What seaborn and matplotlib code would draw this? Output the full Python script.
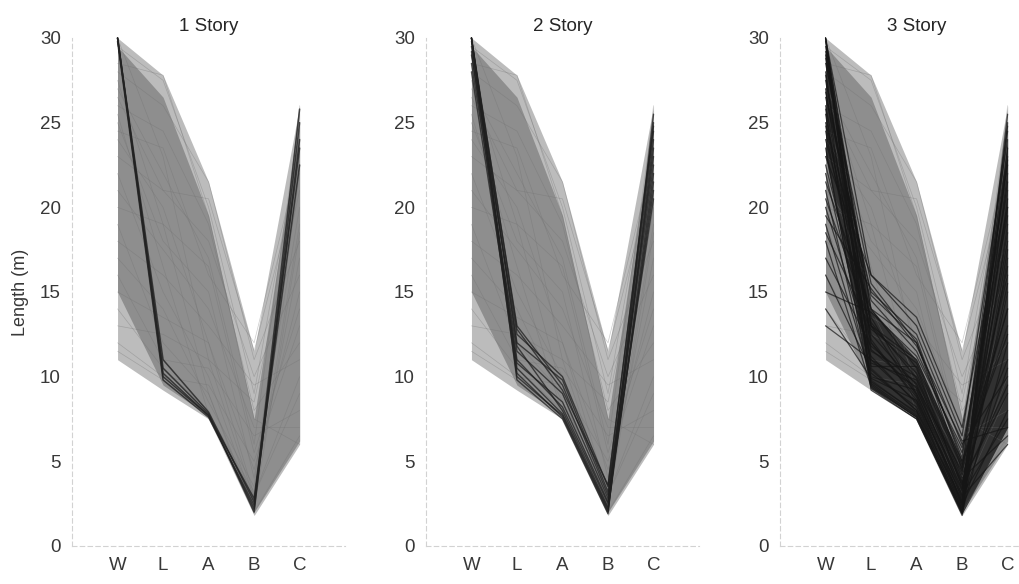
import numpy as np
import pandas as pd
import matplotlib
matplotlib.use("Agg")
import matplotlib.pyplot as plt
import seaborn as sns

# ---------------------------------------------------------------- data
AXIS_LABELS = ["W", "L", "A", "B", "C"]
STORIES = ["1 Story", "2 Story", "3 Story"]

# envelope of the whole design cloud (outer, sparse) and its dense core
SPARSE_UPPER = [30.0, 27.8, 21.5, 11.5, 26.0]
SPARSE_LOWER = [11.0, 9.2, 7.5, 1.8, 6.0]
DENSE_UPPER = [29.5, 26.5, 19.5, 7.5, 25.0]
DENSE_LOWER = [15.0, 9.5, 7.7, 2.0, 6.2]

# sample designs drawn over the cloud
ALL_W = [29.5, 28.0, 27.0, 26.0, 25.0, 24.0, 23.0, 22.0, 21.0, 20.0, 19.0, 18.0, 17.0,
         16.0, 15.0, 14.0, 13.0, 12.0, 11.5, 30.0, 28.5, 27.5, 26.5, 25.5, 24.5]
ALL_L = [27.5, 26.0, 22.0, 24.5, 18.0, 20.0, 21.0, 15.0, 17.5, 19.0, 12.0, 16.0, 14.0,
         11.0, 13.5, 10.5, 12.5, 10.0, 9.8, 23.0, 27.8, 19.0, 21.0, 16.5, 23.5]
ALL_A = [20.0, 21.5, 17.0, 19.0, 15.0, 12.0, 18.0, 10.0, 14.0, 16.5, 9.0, 13.0, 8.5,
         10.5, 12.0, 8.0, 11.0, 9.5, 7.8, 11.0, 19.5, 9.0, 20.5, 7.8, 16.0]
ALL_B = [9.0, 11.0, 6.0, 8.0, 4.0, 3.0, 10.0, 2.5, 7.0, 5.5, 2.2, 9.5, 3.5,
         6.5, 4.5, 2.0, 8.5, 5.0, 3.0, 2.8, 7.5, 1.9, 11.5, 3.2, 12.0]
ALL_C = [24.0, 18.0, 25.5, 12.0, 20.0, 9.0, 16.0, 22.0, 7.0, 14.0, 18.5, 11.0, 24.5,
         8.0, 15.0, 6.5, 21.0, 13.0, 10.0, 19.0, 6.0, 26.0, 22.0, 17.0, 23.0]

# designs meeting the requirement for each number of stories
S1_W = [30.0, 30.0, 30.0, 29.8, 30.0]
S1_L = [10.0, 10.5, 11.0, 9.8, 10.2]
S1_A = [7.7, 7.8, 7.9, 7.6, 7.7]
S1_B = [2.2, 2.0, 2.6, 2.4, 2.8]
S1_C = [24.0, 25.0, 22.5, 25.8, 23.5]

S2_W = [30.0, 30.0, 29.5, 30.0, 29.0, 28.5, 30.0, 29.8, 28.0, 30.0, 29.2, 30.0]
S2_L = [10.5, 10.2, 11.0, 12.0, 12.5, 11.5, 9.8, 13.0, 10.8, 11.8, 10.0, 12.8]
S2_A = [7.8, 7.6, 8.2, 9.8, 10.0, 9.0, 7.5, 9.5, 8.5, 8.0, 7.7, 9.2]
S2_B = [2.2, 2.0, 2.5, 3.2, 3.5, 2.8, 1.9, 3.0, 2.6, 2.3, 2.1, 3.6]
S2_C = [22.0, 24.0, 21.0, 23.0, 25.0, 20.5, 25.5, 22.5, 24.5, 23.5, 21.5, 24.8]

S3_W = [30.0, 30.0, 29.5, 29.0, 28.5, 28.0, 27.5, 27.0, 26.5, 26.0, 25.5, 25.0, 24.5, 24.0,
        23.5, 23.0, 22.5, 22.0, 21.5, 21.0, 20.5, 20.0, 19.5, 19.0, 18.5, 18.0, 17.0, 16.0,
        15.0, 14.0, 13.0, 30.0, 29.8, 28.8, 27.8, 26.8, 25.8, 24.8, 29.2, 30.0]
S3_L = [9.5, 10.5, 12.0, 14.0, 15.5, 11.0, 13.0, 9.8, 15.0, 12.5, 10.2, 14.5, 11.5, 13.5,
        9.3, 16.0, 12.0, 10.8, 14.0, 9.6, 13.0, 11.2, 15.2, 10.0, 12.8, 9.4, 11.8, 10.4,
        13.8, 9.9, 11.0, 16.0, 9.2, 12.2, 10.6, 14.8, 9.7, 13.2, 11.6, 13.0]
S3_A = [7.6, 8.0, 9.0, 10.5, 12.0, 8.5, 11.0, 7.8, 12.5, 9.5, 8.2, 11.5, 10.0, 9.0,
        7.5, 13.0, 8.8, 9.8, 12.0, 7.7, 10.2, 8.4, 11.8, 9.2, 10.8, 7.6, 9.6, 8.0,
        11.2, 8.6, 9.4, 13.5, 7.5, 8.6, 10.6, 12.2, 7.9, 9.9, 9.3, 8.9]
S3_B = [1.9, 2.2, 2.8, 3.5, 4.5, 2.5, 5.0, 2.0, 6.0, 3.0, 2.4, 5.5, 4.0, 3.2,
        1.8, 6.5, 2.6, 3.8, 5.2, 2.1, 4.2, 2.3, 6.2, 3.4, 4.8, 1.9, 3.6, 2.7,
        5.8, 3.0, 4.4, 7.0, 2.0, 2.9, 4.6, 5.0, 2.2, 3.7, 3.3, 2.5]
S3_C = [24.5, 22.0, 20.0, 18.0, 16.0, 25.0, 14.0, 12.0, 10.0, 23.0, 8.0, 19.5, 6.5, 21.5,
        17.0, 24.0, 15.0, 9.0, 22.5, 20.5, 11.0, 25.5, 7.0, 18.5, 13.0, 23.5, 16.5, 10.5,
        20.0, 7.5, 14.0, 21.0, 19.0, 6.0, 24.8, 12.5, 17.5, 9.5, 22.8, 15.5]

# dense band of the 3-story designs
S3_CORE_UPPER = [30.0, 14.0, 11.0, 5.0, 24.0]
S3_CORE_LOWER = [23.0, 9.3, 7.6, 1.9, 7.0]

# ---------------------------------------------------------------- helpers
POS = np.arange(1, len(AXIS_LABELS) + 1)


def long_form(w, l, a, b, c):
    rows = []
    for i, vals in enumerate(zip(w, l, a, b, c)):
        for p, v in zip(POS, vals):
            rows.append({"design": i, "pos": p, "value": v})
    return pd.DataFrame(rows)


cloud = long_form(ALL_W, ALL_L, ALL_A, ALL_B, ALL_C)
selected = [
    long_form(S1_W, S1_L, S1_A, S1_B, S1_C),
    long_form(S2_W, S2_L, S2_A, S2_B, S2_C),
    long_form(S3_W, S3_L, S3_A, S3_B, S3_C),
]
sel_style = [
    dict(color="#222222", lw=1.1, alpha=0.8),
    dict(color="#1f1f1f", lw=1.0, alpha=0.75),
    dict(color="#151515", lw=0.9, alpha=0.7),
]

# ---------------------------------------------------------------- figure
sns.set_theme(style="white")
plt.rcParams["font.family"] = ["Liberation Sans", "DejaVu Sans"]

fig = plt.figure(figsize=(10.19, 5.84), dpi=100)
lefts = [0.0707, 0.418, 0.7655]
bottom, height, width = 0.0651, 0.8699, 0.268

for k, (story, left) in enumerate(zip(STORIES, lefts)):
    ax = fig.add_axes([left, bottom, width, height])
    ax.fill_between(POS, SPARSE_LOWER, SPARSE_UPPER, color="#bcbcbc", lw=0, clip_on=False)
    ax.fill_between(POS, DENSE_LOWER, DENSE_UPPER, color="#8e8e8e", lw=0, clip_on=False)
    sns.lineplot(data=cloud, x="pos", y="value", units="design", estimator=None,
                 sort=False, color="#6e6e6e", lw=0.5, alpha=0.35, ax=ax,
                 legend=False, clip_on=False)
    if k == 2:
        ax.fill_between(POS, S3_CORE_LOWER, S3_CORE_UPPER, color="#242424",
                        alpha=0.88, lw=0, clip_on=False)
    sns.lineplot(data=selected[k], x="pos", y="value", units="design", estimator=None,
                 sort=False, ax=ax, legend=False, clip_on=False, **sel_style[k])

    ax.set_xlim(0, 6)
    ax.set_ylim(0, 30)
    ax.set_xticks(POS)
    ax.set_xticklabels(AXIS_LABELS)
    ax.set_yticks(np.arange(0, 31, 5))
    ax.set_xlabel("")
    ax.set_ylabel("")
    for side in ("top", "right"):
        ax.spines[side].set_visible(False)
    for side in ("left", "bottom"):
        ax.spines[side].set_color("#d2d2d2")
        ax.spines[side].set_linewidth(0.8)
        ax.spines[side].set_linestyle((0, (4, 3)))
    ax.tick_params(axis="both", direction="in", length=3, width=0.6,
                   color="#bdbdbd", labelsize=13.5, labelcolor="#383838", pad=8)
    ax.set_title(story, fontsize=13.5, color="#262626", pad=5)

    if k == 0:
        ax.set_ylabel("Length (m)", fontsize=13, color="#383838", labelpad=8)

fig.savefig("out.png", dpi=100)
